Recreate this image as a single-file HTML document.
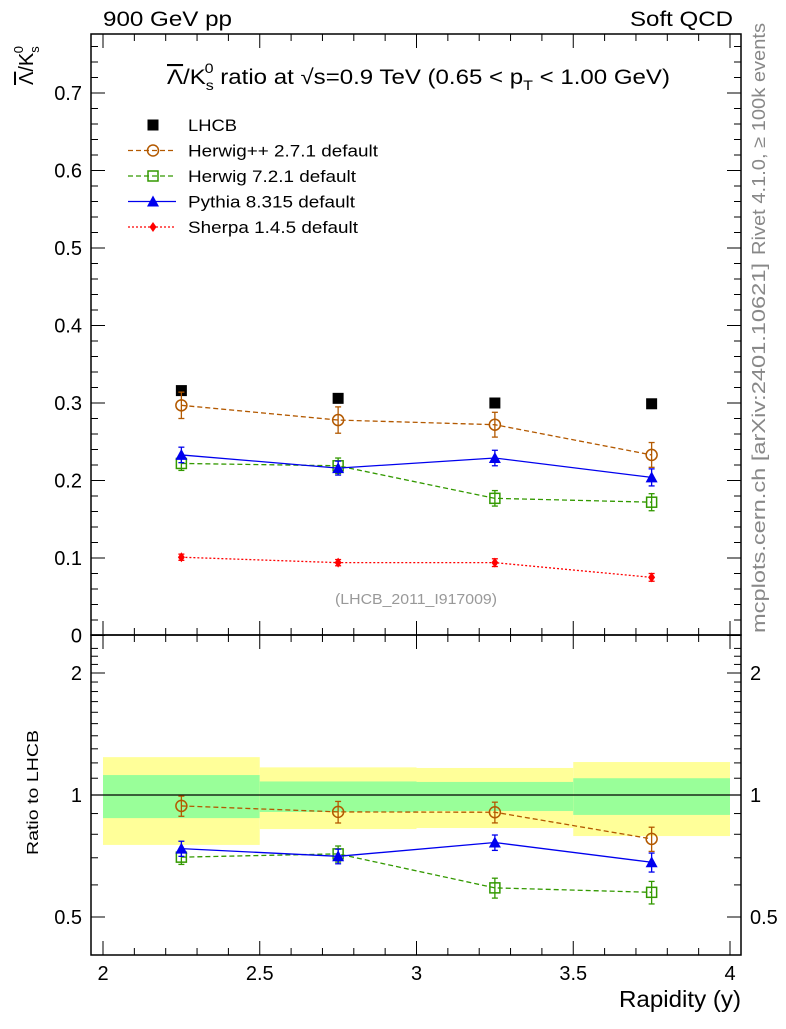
<!DOCTYPE html>
<html><head><meta charset="utf-8"><style>
body{margin:0;background:#fff;}
svg{font-family:"Liberation Sans",sans-serif;}
</style></head><body>
<svg id="c" width="786" height="1024" xmlns="http://www.w3.org/2000/svg"></svg>
<script>
const xs=[2.25,2.75,3.25,3.75];
const xEdges=[2,2.5,3,3.5,4];
const lhcb=[0.316,0.306,0.300,0.299];
const herwigpp=[0.297,0.278,0.272,0.233];
const herwigppErr=[0.017,0.017,0.016,0.016];
const herwig7=[0.222,0.219,0.177,0.172];
const herwig7Err=[0.009,0.010,0.010,0.011];
const pythia=[0.233,0.216,0.229,0.204];
const pythiaErr=[0.010,0.009,0.010,0.011];
const sherpa=[0.101,0.094,0.094,0.075];
const sherpaErr=[0.004,0.004,0.005,0.005];
const bandYelHi=[1.24,1.17,1.166,1.206];
const bandYelLo=[0.753,0.824,0.829,0.792];
const bandGrnHi=[1.12,1.08,1.077,1.10];
const bandGrnLo=[0.877,0.908,0.913,0.893];
const yTicks=[0,0.1,0.2,0.3,0.4,0.5,0.6,0.7];
const xTicks=[2,2.5,3,3.5,4];
const rTicks=[0.5,1,2];

const NS="http://www.w3.org/2000/svg",svg=document.getElementById('c');
function el(t,a,p){const e=document.createElementNS(NS,t);for(const k in a)e.setAttribute(k,a[k]);(p||svg).appendChild(e);return e;}
const L=91,R=741,T=34,M=635,B=955;
const X=v=>103+(v-2)*313.5;
const Y=v=>635.5-v*775;
const RY=v=>795-Math.log2(v)*122;

let f1=el('rect',{x:L,y:T,width:R-L,height:M-T,fill:'none',stroke:'#000','stroke-width':1.5});

const bg=el('g',{});
for(let i=0;i<4;i++){
 el('rect',{x:X(xEdges[i]),y:RY(bandYelHi[i]),width:X(xEdges[i+1])-X(xEdges[i]),height:RY(bandYelLo[i])-RY(bandYelHi[i]),fill:'#ffff99'},bg);
 el('rect',{x:X(xEdges[i]),y:RY(bandGrnHi[i]),width:X(xEdges[i+1])-X(xEdges[i]),height:RY(bandGrnLo[i])-RY(bandGrnHi[i]),fill:'#99ff99'},bg);
}
el('line',{x1:L,x2:R,y1:RY(1),y2:RY(1),stroke:'#000','stroke-width':1.2});
let f2=el('rect',{x:L,y:M,width:R-L,height:B-M,fill:'none',stroke:'#000','stroke-width':1.5});


for(let v=0;v<=0.775;v+=0.02){const y=Y(v);const maj=Math.abs(v*10-Math.round(v*10))<1e-6;
 el('line',{x1:L,x2:L+(maj?14:7),y1:y,y2:y,stroke:'#000'});el('line',{x1:R,x2:R-(maj?14:7),y1:y,y2:y,stroke:'#000'});}
yTicks.forEach(v=>{const t=el('text',{x:82,y:Y(v)+7,'text-anchor':'end','font-size':20});t.textContent=v===0?'0':v.toFixed(1);
 });
for(let v=2;v<=4.001;v+=0.1){const x=X(v);const maj=Math.abs(v*2-Math.round(v*2))<1e-6;
 [[M,-1],[B,-1],[T,1],[M,1]].forEach(([y0,d])=>el('line',{x1:x,x2:x,y1:y0,y2:y0+d*(maj?14:7),stroke:'#000'}));}
xTicks.forEach(v=>{const t=el('text',{x:X(v),y:980,'text-anchor':'middle','font-size':20});t.textContent=String(v);
 });
for(let v=0.5;v<=2.4;v+=0.1){const y=RY(v);if(y<M||y>B)continue;const maj=rTicks.some(r=>Math.abs(r-v)<1e-6);
 el('line',{x1:L,x2:L+(maj?14:7),y1:y,y2:y,stroke:'#000'});el('line',{x1:R,x2:R-(maj?14:7),y1:y,y2:y,stroke:'#000'});}
rTicks.forEach(v=>{[[82,'end'],[750,'start']].forEach(([x,a])=>{const t=el('text',{x:x,y:RY(v)+7,'text-anchor':a,'font-size':20});t.textContent=String(v);
 });});

function marker(g,type,x,y,c){
 if(type==='sq')el('rect',{x:x-5.5,y:y-5.5,width:11,height:11,fill:c},g);
 if(type==='osq')el('rect',{x:x-5,y:y-5,width:10,height:10,fill:'none',stroke:c,'stroke-width':1.5},g);
 if(type==='oc')el('circle',{cx:x,cy:y,r:5.5,fill:'none',stroke:c,'stroke-width':1.5},g);
 if(type==='tri')el('path',{d:`M${x},${y-6}L${x+6},${y+5}L${x-6},${y+5}Z`,fill:c},g);
 if(type==='dia')el('path',{d:`M${x},${y-5}L${x+3.5},${y}L${x},${y+5}L${x-3.5},${y}Z`,fill:c},g);
}
function series(name,vals,errs,c,dash,type,ratio){
 const g=el('g',{});
 const yf=ratio?(v,i)=>RY(v/lhcb[i]):(v)=>Y(v);
 const pts=vals.map((v,i)=>[X(xs[i]),yf(v,i)]);
 if(ratio&&pts.some(p=>p[1]>B))return;
 if(dash!==null)el('polyline',{points:pts.map(p=>p.join(',')).join(' '),fill:'none',stroke:c,'stroke-width':1.3,'stroke-dasharray':dash},g);
 if(errs)vals.forEach((v,i)=>{const a=yf(v+errs[i],i),b=yf(v-errs[i],i),x=pts[i][0];
  el('line',{x1:x,x2:x,y1:a,y2:b,stroke:c,'stroke-width':1.3},g);el('line',{x1:x-3,x2:x+3,y1:a,y2:a,stroke:c,'stroke-width':1.3},g);el('line',{x1:x-3,x2:x+3,y1:b,y2:b,stroke:c,'stroke-width':1.3},g);});
 pts.forEach(p=>marker(g,type,p[0],p[1],c));
}
series('lhcb-data',lhcb,null,'#000',null,'sq',false);
series('herwigpp-line',herwigpp,herwigppErr,'#b35900','5,3','oc',false);
series('herwig7-line',herwig7,herwig7Err,'#339900','5,3','osq',false);
series('pythia-line',pythia,pythiaErr,'#0000ee','','tri',false);
series('sherpa-line',sherpa,sherpaErr,'#ff0000','2,2','dia',false);
series('herwigpp-ratio',herwigpp,herwigppErr,'#b35900','5,3','oc',true);
series('herwig7-ratio',herwig7,herwig7Err,'#339900','5,3','osq',true);
series('pythia-ratio',pythia,pythiaErr,'#0000ee','','tri',true);

const leg=[['LHCB','#000',null,'sq',49],['Herwig++ 2.7.1 default','#b35900','5,3','oc',190],['Herwig 7.2.1 default','#339900','5,3','osq',168],['Pythia 8.315 default','#0000ee','','tri',167],['Sherpa 1.4.5 default','#ff0000','2,2','dia',170]];
leg.forEach((l,i)=>{const g=el('g',{});
 const y=125+i*25.5;if(l[2]!==null)el('line',{x1:128,x2:176,y1:y,y2:y,stroke:l[1],'stroke-width':1.3,'stroke-dasharray':l[2]},g);
 marker(g,l[3],153,y,l[1]);const t=el('text',{x:188,y:y+6,'font-size':17,textLength:l[4],lengthAdjust:'spacingAndGlyphs'},g);t.textContent=l[0];});

function txt(name,s,a,html){const t=el('text',a);if(html)t.innerHTML=s;else t.textContent=s;return t;}
const SA='spacingAndGlyphs';
txt('top-left-label','900 GeV pp',{x:103,y:26,'font-size':21,textLength:129,lengthAdjust:SA});
txt('top-right-label','Soft QCD',{x:630,y:26,'font-size':21,textLength:103,lengthAdjust:SA});
txt('plot-title','<tspan text-decoration="overline">Λ</tspan>/K<tspan dy="6" font-size="14">s</tspan><tspan dy="-17" dx="-8" font-size="14">0</tspan><tspan dy="11"> ratio at √s=0.9 TeV (0.65 &lt; p</tspan><tspan dy="6" font-size="14">T</tspan><tspan dy="-6"> &lt; 1.00 GeV)</tspan>',{x:167,y:84,'font-size':21,textLength:503,lengthAdjust:SA},true);
txt('y-axis-title','<tspan text-decoration="overline">Λ</tspan>/K<tspan dy="6" font-size="13">s</tspan><tspan dy="-16" dx="-7" font-size="13">0</tspan>',{x:0,y:0,'font-size':20,transform:'translate(33,85) rotate(-90)'},true);
txt('ratio-y-title','Ratio to LHCB',{x:0,y:0,'font-size':16,textLength:125,lengthAdjust:SA,transform:'translate(38,855) rotate(-90)'});
txt('x-axis-title','Rapidity (y)',{x:619,y:1007,'font-size':23,textLength:122,lengthAdjust:SA});
txt('analysis-id','(LHCB_2011_I917009)',{x:335,y:604,'font-size':15,fill:'#999',textLength:162,lengthAdjust:SA});
txt('side-label','mcplots.cern.ch [arXiv:2401.10621]',{x:0,y:0,'font-size':18,fill:'#888',textLength:370,lengthAdjust:SA,transform:'translate(765,633) rotate(-90)'});
txt('rivet-label','Rivet 4.1.0, ≥ 100k events',{x:0,y:0,'font-size':18,fill:'#888',textLength:232,lengthAdjust:SA,transform:'translate(765,255) rotate(-90)'});
</script>
</body></html>
